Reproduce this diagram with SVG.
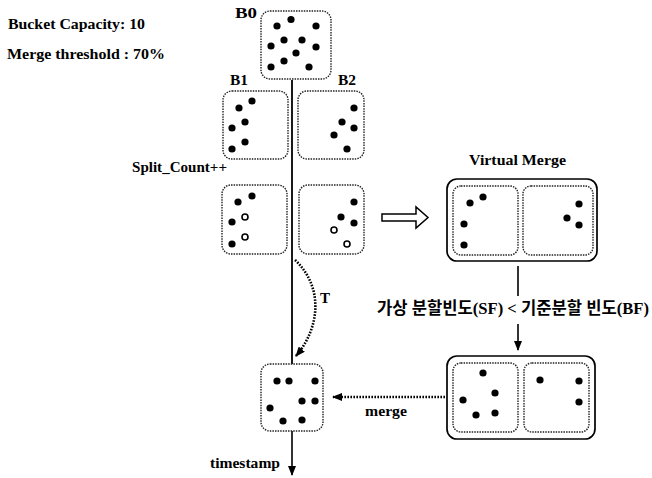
<svg xmlns="http://www.w3.org/2000/svg" width="652" height="478" viewBox="0 0 652 478">
<defs>
<style>
.t{font-family:"Liberation Serif","Noto Sans CJK KR",serif;font-weight:bold;fill:#000}
.bk{fill:#fff;stroke:#222;stroke-width:1.4;stroke-dasharray:1.5 1.1}
.ob{fill:#fff;stroke:#000;stroke-width:1.7}
.d{fill:#000}
.h{fill:#fff;stroke:#000;stroke-width:1.6}
.ln{stroke:#000;stroke-width:1.8;fill:none}
.dt{stroke:#000;stroke-width:2.6;stroke-dasharray:1.6 1.4;fill:none}
</style>
<marker id="ah" markerWidth="10" markerHeight="8" refX="9" refY="4" orient="auto" markerUnits="userSpaceOnUse">
<path d="M0,0 L10,4 L0,8 Z" fill="#000"/>
</marker>
</defs>
<rect width="652" height="478" fill="#fff"/>

<g id="info">
<text class="t" x="8" y="29" font-size="14" textLength="137" lengthAdjust="spacingAndGlyphs">Bucket Capacity: 10</text>
<text class="t" x="7" y="59" font-size="14" textLength="158" lengthAdjust="spacingAndGlyphs">Merge threshold : 70%</text>
</g>

<g id="connectors">
<line class="ln" x1="292" y1="80" x2="292" y2="364"/>
<path class="dt" d="M295,260 C322,285 322,325 296,356" marker-end="url(#ah)"/>
<text class="t" x="320" y="303" font-size="15">T</text>
<polygon points="382,214 416,214 416,207 428,217.5 416,228 416,221 382,221" fill="#fff" stroke="#000" stroke-width="1.5"/>
<line x1="518" y1="266" x2="518" y2="296" stroke="#000" stroke-width="1.6"/>
<line x1="518" y1="324" x2="518" y2="350" stroke="#000" stroke-width="1.6" marker-end="url(#ah)"/>
<line class="dt" x1="445" y1="397" x2="333" y2="397" marker-end="url(#ah)"/>
<text class="t" x="365" y="416" font-size="15" textLength="42" lengthAdjust="spacingAndGlyphs">merge</text>
<line x1="292" y1="431" x2="292" y2="475" stroke="#000" stroke-width="1.6" marker-end="url(#ah)"/>
<text class="t" x="210" y="468" font-size="14" textLength="70" lengthAdjust="spacingAndGlyphs">timestamp</text>
<text class="t" x="377" y="314" font-size="16.5" textLength="272" lengthAdjust="spacingAndGlyphs">가상 분할빈도(SF) &lt; 기준분할 빈도(BF)</text>
</g>

<g id="B0">
<text class="t" x="235" y="18" font-size="15" textLength="22" lengthAdjust="spacingAndGlyphs">B0</text>
<rect class="bk" x="261" y="11" width="70" height="68" rx="9"/>
<circle class="d" cx="291" cy="19.5" r="3.6"/><circle class="d" cx="277" cy="26" r="3.6"/><circle class="d" cx="316" cy="26" r="3.6"/>
<circle class="d" cx="284" cy="40" r="3.6"/><circle class="d" cx="302" cy="40" r="3.6"/><circle class="d" cx="271" cy="46" r="3.6"/>
<circle class="d" cx="316" cy="47" r="3.6"/><circle class="d" cx="296" cy="53" r="3.6"/><circle class="d" cx="284" cy="61" r="3.6"/>
<circle class="d" cx="271" cy="67" r="3.6"/><circle class="d" cx="309" cy="67" r="3.6"/>
</g>

<g id="B1">
<text class="t" x="230" y="85" font-size="15" textLength="18" lengthAdjust="spacingAndGlyphs">B1</text>
<rect class="bk" x="223" y="91" width="65" height="68" rx="9"/>
<circle class="d" cx="252" cy="101" r="3.6"/><circle class="d" cx="239" cy="108" r="3.6"/><circle class="d" cx="245" cy="122" r="3.6"/>
<circle class="d" cx="232" cy="128" r="3.6"/><circle class="d" cx="245" cy="142" r="3.6"/><circle class="d" cx="232" cy="149" r="3.6"/>
</g>

<g id="B2">
<text class="t" x="338" y="85" font-size="15" textLength="18" lengthAdjust="spacingAndGlyphs">B2</text>
<rect class="bk" x="298" y="91" width="66" height="68" rx="9"/>
<circle class="d" cx="354" cy="108" r="3.6"/><circle class="d" cx="342" cy="122" r="3.6"/><circle class="d" cx="354" cy="128" r="3.6"/>
<circle class="d" cx="334" cy="135" r="3.6"/><circle class="d" cx="347" cy="149" r="3.6"/>
</g>

<g id="split">
<text class="t" x="132" y="172" font-size="15" textLength="95" lengthAdjust="spacingAndGlyphs">Split_Count++</text>
</g>

<g id="B1s">
<rect class="bk" x="222" y="185" width="65" height="69" rx="9"/>
<circle class="d" cx="252" cy="196" r="3.6"/><circle class="d" cx="238" cy="202" r="3.6"/>
<circle class="h" cx="245" cy="217" r="3"/><circle class="d" cx="232" cy="222" r="3.6"/>
<circle class="h" cx="245" cy="237" r="3"/><circle class="d" cx="232" cy="244" r="3.6"/>
</g>

<g id="B2s">
<rect class="bk" x="299" y="185" width="65" height="69" rx="9"/>
<circle class="d" cx="354" cy="202" r="3.6"/><circle class="d" cx="341" cy="217" r="3.6"/><circle class="d" cx="354" cy="223" r="3.6"/>
<circle class="h" cx="334" cy="230" r="3"/><circle class="h" cx="347" cy="244" r="3"/>
</g>

<g id="virtual-merge">
<text class="t" x="469" y="165" font-size="15" textLength="97" lengthAdjust="spacingAndGlyphs">Virtual Merge</text>
<rect class="ob" x="447" y="179" width="150" height="82" rx="10"/>
<rect class="bk" x="453" y="186" width="65" height="69" rx="8"/>
<rect class="bk" x="523" y="186" width="70" height="69" rx="8"/>
<circle class="d" cx="483" cy="197" r="3.6"/><circle class="d" cx="470" cy="203" r="3.6"/>
<circle class="d" cx="464" cy="224" r="3.6"/><circle class="d" cx="464" cy="245" r="3.6"/>
<circle class="d" cx="579" cy="204" r="3.6"/><circle class="d" cx="567" cy="218" r="3.6"/><circle class="d" cx="579" cy="225" r="3.6"/>
</g>

<g id="result-merge">
<rect class="ob" x="447" y="356" width="148" height="83" rx="10"/>
<rect class="bk" x="453" y="363" width="65" height="69" rx="8"/>
<rect class="bk" x="524" y="363" width="65" height="69" rx="8"/>
<circle class="d" cx="483" cy="373" r="3.6"/><circle class="d" cx="495" cy="393" r="3.6"/><circle class="d" cx="463" cy="400" r="3.6"/>
<circle class="d" cx="476" cy="415" r="3.6"/><circle class="d" cx="495" cy="413" r="3.6"/>
<circle class="d" cx="540" cy="380" r="3.6"/><circle class="d" cx="579" cy="381" r="3.6"/><circle class="d" cx="579" cy="402" r="3.6"/>
</g>

<g id="merged-bucket">
<rect class="bk" x="261" y="364" width="62" height="67" rx="9"/>
<circle class="d" cx="277" cy="381" r="3.6"/><circle class="d" cx="289" cy="381" r="3.6"/><circle class="d" cx="315" cy="381" r="3.6"/>
<circle class="d" cx="302" cy="401" r="3.6"/><circle class="d" cx="315" cy="401" r="3.6"/><circle class="d" cx="270" cy="408" r="3.6"/>
<circle class="d" cx="283" cy="421" r="3.6"/><circle class="d" cx="302" cy="420" r="3.6"/>
</g>
</svg>
